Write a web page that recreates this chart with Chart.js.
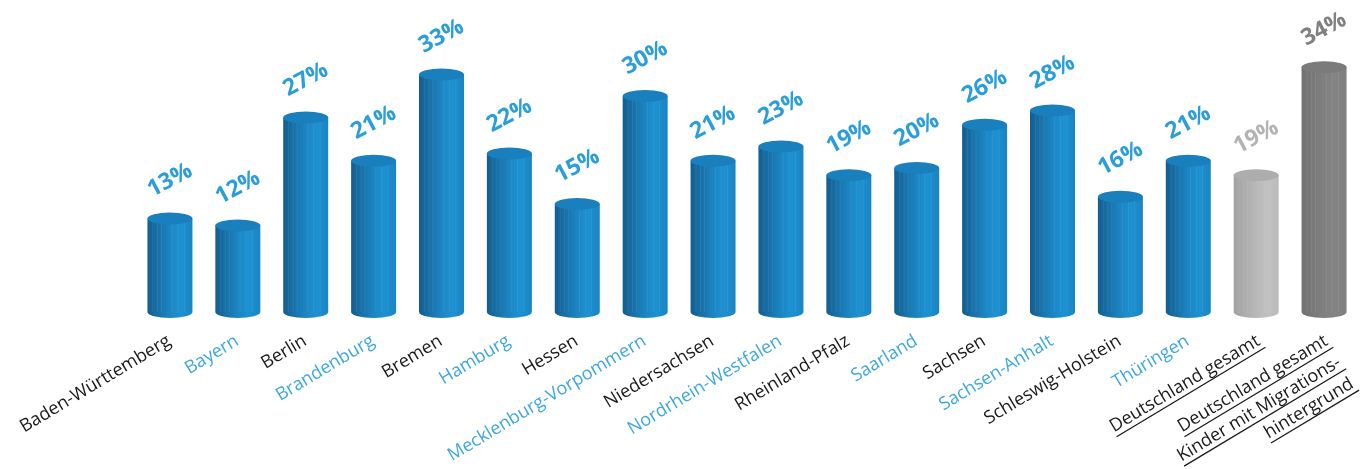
<!DOCTYPE html>
<html>
<head>
<meta charset="utf-8">
<script src="https://cdn.jsdelivr.net/npm/chart.js@4/dist/chart.umd.min.js"></script>
<style>
  html, body { margin: 0; padding: 0; background: #fff; }
  #wrap { width: 1363px; height: 469px; position: relative; }
</style>
</head>
<body>
<div id="wrap"><canvas id="chart"></canvas></div>
<script>
const categories = [
  "Baden-Württemberg", "Bayern", "Berlin", "Brandenburg", "Bremen", "Hamburg",
  "Hessen", "Mecklenburg-Vorpommern", "Niedersachsen", "Nordrhein-Westfalen",
  "Rheinland-Pfalz", "Saarland", "Sachsen", "Sachsen-Anhalt", "Schleswig-Holstein",
  "Thüringen", "Deutschland gesamt",
  ["Deutschland gesamt", "Kinder mit Migrations-", "hintergrund"]
];
const values = [13, 12, 27, 21, 33, 22, 15, 30, 21, 23, 19, 20, 26, 28, 16, 21, 19, 34];
// "state", "total", "migration"
const groups = ["state", "state", "state", "state", "state", "state", "state", "state", "state",
  "state", "state", "state", "state", "state", "state", "state", "total", "migration"];

const palette = {
  state: { stops: ["#135e90", "#1872a9", "#1b86c3", "#1d91d2", "#1a84c2"], top: "#1a7fbd", text: "#2a9ddb" },
  total: { stops: ["#a2a2a2", "#adadad", "#b8b8b8", "#c1c1c1", "#bbbbbb"], top: "#adadad", text: "#b3b3b3" },
  migration: { stops: ["#717171", "#797979", "#808080", "#848484", "#7f7f7f"], top: "#7b7b7b", text: "#808080" }
};
const labelBlack = "#1a1a1a";
const labelBlue = "#3ea7df";

const cylinderPlugin = {
  id: "cylinders",
  afterDatasetsDraw(chart) {
    const ctx = chart.ctx;
    const meta = chart.getDatasetMeta(0);
    const ry = 6;
    meta.data.forEach((bar, i) => {
      const p = palette[groups[i]];
      const w = bar.width;
      const left = bar.x - w / 2;
      const grad = ctx.createLinearGradient(left, 0, left + w, 0);
      p.stops.forEach((c, k) => grad.addColorStop(k / (p.stops.length - 1), c));

      ctx.save();
      // body + bottom half ellipse
      ctx.beginPath();
      ctx.moveTo(left, bar.y);
      ctx.lineTo(left, bar.base);
      ctx.ellipse(bar.x, bar.base, w / 2, ry, 0, Math.PI, 0, true);
      ctx.lineTo(left + w, bar.y);
      ctx.closePath();
      ctx.fillStyle = grad;
      ctx.fill();

      // faint vertical stripes
      ctx.globalAlpha = 0.08;
      ctx.strokeStyle = "#ffffff";
      ctx.lineWidth = 1;
      [0.12, 0.22, 0.31, 0.55, 0.68, 0.82].forEach(f => {
        ctx.beginPath();
        ctx.moveTo(left + w * f, bar.y);
        ctx.lineTo(left + w * f, bar.base);
        ctx.stroke();
      });
      ctx.globalAlpha = 1;

      // top ellipse
      ctx.beginPath();
      ctx.ellipse(bar.x, bar.y, w / 2, ry, 0, 0, Math.PI * 2);
      ctx.fillStyle = p.top;
      ctx.fill();

      // value label
      ctx.translate(bar.x, bar.y - 38);
      ctx.rotate(-28 * Math.PI / 180);
      ctx.font = "bold 23px 'Open Sans'";
      ctx.fillStyle = p.text;
      ctx.textAlign = "center";
      ctx.textBaseline = "middle";
      ctx.fillText(values[i] + "%", 0, 0);
      ctx.restore();
    });
  },
  afterDraw(chart) {
    const ctx = chart.ctx;
    const meta = chart.getDatasetMeta(0);
    const angle = -31 * Math.PI / 180;
    const lineHeight = 25;
    meta.data.forEach((bar, i) => {
      const lines = Array.isArray(categories[i]) ? categories[i] : [categories[i]];
      const underline = groups[i] !== "state";
      ctx.save();
      ctx.translate(bar.x + (underline ? 5 : 2), 344);
      ctx.rotate(angle);
      ctx.font = "18px 'Open Sans'";
      ctx.textAlign = "right";
      ctx.textBaseline = "alphabetic";
      ctx.fillStyle = underline ? labelBlack : (i % 2 === 0 ? labelBlack : labelBlue);
      lines.forEach((line, k) => {
        const y = k * lineHeight;
        ctx.fillText(line, 0, y);
        if (underline) {
          const tw = ctx.measureText(line).width;
          ctx.beginPath();
          ctx.moveTo(-tw, y + 5);
          ctx.lineTo(2, y + 5);
          ctx.lineWidth = 1.3;
          ctx.strokeStyle = labelBlack;
          ctx.stroke();
        }
      });
      ctx.restore();
    });
  }
};

new Chart(document.getElementById("chart"), {
  type: "bar",
  data: {
    labels: categories,
    datasets: [{
      data: values,
      backgroundColor: "rgba(0,0,0,0)",
      borderWidth: 0,
      barThickness: 45
    }]
  },
  options: {
    responsive: true,
    maintainAspectRatio: false,
    animation: false,
    layout: { padding: { left: 136, right: 5, top: 24, bottom: 157 } },
    plugins: { legend: { display: false }, tooltip: { enabled: false } },
    scales: {
      x: { display: false },
      y: { display: false, min: 0, max: 40 }
    }
  },
  plugins: [cylinderPlugin]
});
</script>
</body>
</html>
